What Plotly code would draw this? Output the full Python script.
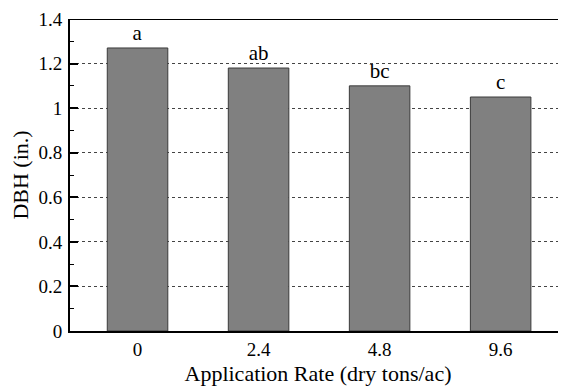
import plotly.graph_objects as go

categories = ["0", "2.4", "4.8", "9.6"]
dbh_values = [1.27, 1.18, 1.10, 1.05]
letters = ["a", "ab", "bc", "c"]
y_ticks = [0, 0.2, 0.4, 0.6, 0.8, 1, 1.2, 1.4]
y_tick_labels = ["0", "0.2", "0.4", "0.6", "0.8", "1", "1.2", "1.4"]

font_family = "Liberation Serif"

fig = go.Figure()
fig.add_trace(go.Bar(
    x=categories,
    y=dbh_values,
    text=letters,
    textposition="outside",
    textfont=dict(family=font_family, size=21, color="black"),
    marker=dict(color="#808080", line=dict(color="#3a3a3a", width=1)),
    width=0.5,
    cliponaxis=False,
))

fig.add_shape(type="line", xref="paper", yref="y", x0=0, x1=1, y0=1.4, y1=1.4,
              line=dict(color="black", width=2))

fig.update_layout(
    width=558, height=378,
    margin=dict(l=62, r=0, t=11, b=55),
    paper_bgcolor="white", plot_bgcolor="white",
    showlegend=False,
    font=dict(family=font_family, size=19, color="black"),
    xaxis=dict(
        type="category",
        range=[-0.558, 3.54],
        automargin=False,
        showline=True, linecolor="black", linewidth=2,
        ticks="", showgrid=False,
        tickfont=dict(size=19),
        title=dict(text="Application Rate (dry tons/ac)", font=dict(size=22)),
    ),
    yaxis=dict(
        range=[0, 1.4],
        automargin=False,
        tickvals=y_ticks, ticktext=y_tick_labels,
        showline=True, linecolor="black", linewidth=2,
        ticks="inside", ticklen=8, tickwidth=2, tickcolor="black",
        ticklabelstandoff=2,
        minor=dict(dtick=0.1, ticks="inside", ticklen=4, tickwidth=1, tickcolor="black", showgrid=False),
        showgrid=True, gridcolor="#444444", gridwidth=1, griddash="dot",
        zeroline=False,
        tickfont=dict(size=19),
        title=dict(text="DBH (in.)", font=dict(size=22)),
    ),
    bargap=0.5,
)

fig.write_html("out.html")
